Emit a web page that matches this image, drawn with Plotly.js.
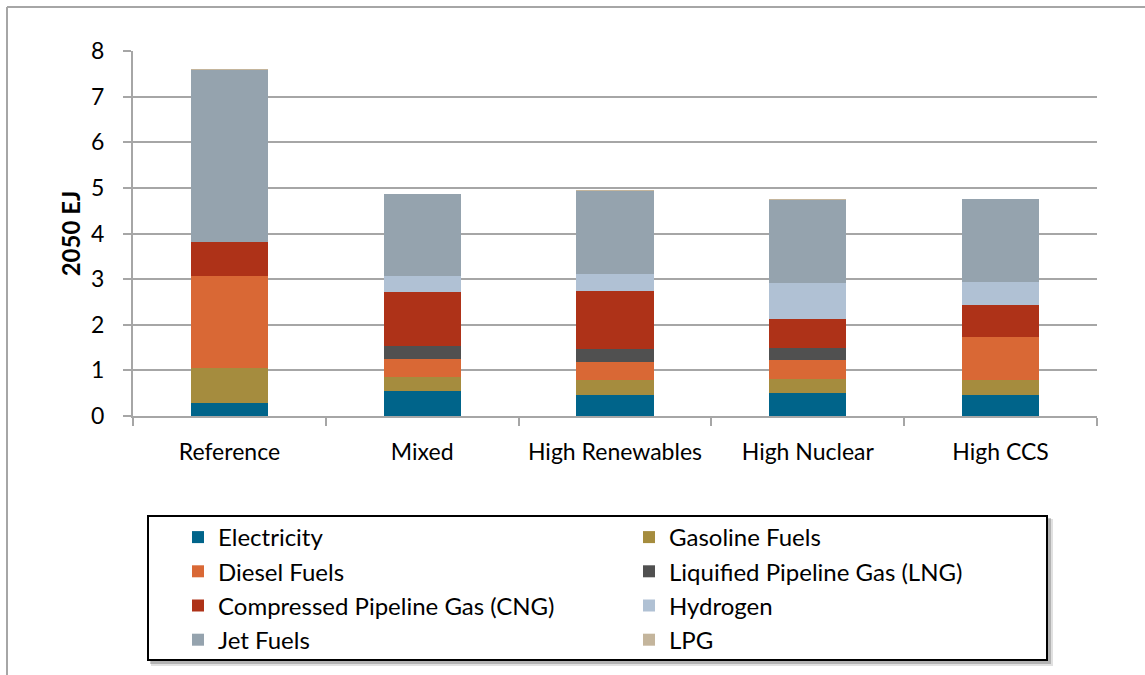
<!DOCTYPE html>
<html>
<head>
<meta charset="utf-8">
<script src="https://cdn.plot.ly/plotly-3.0.1.min.js"></script>
<style>
  html, body { margin: 0; padding: 0; background: #fff; }
  #chart { width: 1145px; height: 675px; }
</style>
</head>
<body>
<div id="chart"></div>
<script>
const scenarios = ["Reference", "Mixed", "High Renewables", "High Nuclear", "High CCS"];

const electricity = [0.28, 0.55, 0.46, 0.50, 0.46];
const gasoline    = [0.77, 0.30, 0.33, 0.31, 0.33];
const diesel      = [2.02, 0.41, 0.39, 0.41, 0.94];
const lng         = [0.00, 0.28, 0.28, 0.26, 0.00];
const cng         = [0.75, 1.18, 1.27, 0.64, 0.70];
const hydrogen    = [0.00, 0.35, 0.38, 0.80, 0.51];
const jetFuels    = [3.76, 1.80, 1.82, 1.82, 1.81];
const lpg         = [0.02, 0.00, 0.02, 0.02, 0.00];

const seriesNames = ["Electricity", "Gasoline Fuels", "Diesel Fuels", "Liquified Pipeline Gas (LNG)",
  "Compressed Pipeline Gas (CNG)", "Hydrogen", "Jet Fuels", "LPG"];
const seriesValues = [electricity, gasoline, diesel, lng, cng, hydrogen, jetFuels, lpg];
const seriesColors = ["#00648a", "#a58c3e", "#d96835", "#505050", "#ae3218", "#b0c1d4", "#95a3ae", "#c4b59c"];

const font = "Lato, 'Open Sans', sans-serif";

const traces = seriesNames.map((name, i) => ({
  type: "bar",
  name: name,
  x: scenarios,
  y: seriesValues[i],
  marker: { color: seriesColors[i], line: { width: 0 } },
  hoverinfo: "x+y+name"
}));

// plot area in pixels: x 133..1097, y 51..416
const L = 133, R = 1097, T = 51, B = 416;
const px = v => (v - L) / (R - L);
const py = v => (B - v) / (B - T);

const layout = {
  width: 1145,
  height: 675,
  margin: { l: L, r: 1145 - R, t: T, b: 675 - B, pad: 0 },
  paper_bgcolor: "#ffffff",
  plot_bgcolor: "#ffffff",
  barmode: "stack",
  bargap: 0.6,
  font: { family: font, size: 23, color: "#000000" },
  showlegend: true,
  legend: {
    orientation: "h",
    traceorder: "normal",
    xref: "container", yref: "container",
    x: 178 / 1145, y: 1 - 515 / 675,
    xanchor: "left", yanchor: "top",
    entrywidth: 406, entrywidthmode: "pixels",
    bgcolor: "rgba(0,0,0,0)",
    borderwidth: 0,
    font: { family: font, size: 24, color: "#000000" },
    itemclick: false, itemdoubleclick: false
  },
  xaxis: {
    type: "category",
    showline: true,
    linecolor: "#a6a6a6",
    linewidth: 2,
    ticks: "outside",
    tickson: "boundaries",
    ticklen: 8,
    tickcolor: "#a6a6a6",
    tickwidth: 2,
    ticklabelstandoff: 14,
    showgrid: false,
    tickfont: { family: font, size: 23, color: "#000000" }
  },
  yaxis: {
    range: [0, 8],
    dtick: 1,
    tick0: 0,
    showline: true,
    linecolor: "#a6a6a6",
    linewidth: 2,
    ticks: "outside",
    ticklen: 8,
    tickcolor: "#a6a6a6",
    tickwidth: 2,
    ticklabelstandoff: 14,
    showgrid: true,
    gridcolor: "#a6a6a6",
    gridwidth: 2,
    zeroline: false,
    tickfont: { family: font, size: 23, color: "#000000" },
    title: { text: "<b>2050 EJ</b>", standoff: 4, font: { family: font, size: 24, color: "#000000" } }
  },
  shapes: [
    { type: "line", xref: "paper", yref: "paper", x0: px(7), x1: px(1145), y0: py(7), y1: py(7),
      line: { color: "#a6a6a6", width: 2 } },
    { type: "line", xref: "paper", yref: "paper", x0: px(7), x1: px(7), y0: py(7), y1: py(675),
      line: { color: "#a6a6a6", width: 2 } },
    { type: "rect", xref: "paper", yref: "paper", layer: "above",
      x0: px(151), x1: px(1053), y0: py(519), y1: py(666),
      fillcolor: "rgba(0,0,0,0.12)", line: { width: 0 } },
    { type: "rect", xref: "paper", yref: "paper", layer: "above",
      x0: px(150), x1: px(1051), y0: py(518), y1: py(664),
      fillcolor: "rgba(0,0,0,0.2)", line: { width: 0 } },
    { type: "rect", xref: "paper", yref: "paper", layer: "above",
      x0: px(148), x1: px(1047), y0: py(516), y1: py(660),
      fillcolor: "#ffffff", line: { color: "#000000", width: 2 } }
  ]
};

Plotly.newPlot("chart", traces, layout, { displayModeBar: false, staticPlot: true });
</script>
</body>
</html>
